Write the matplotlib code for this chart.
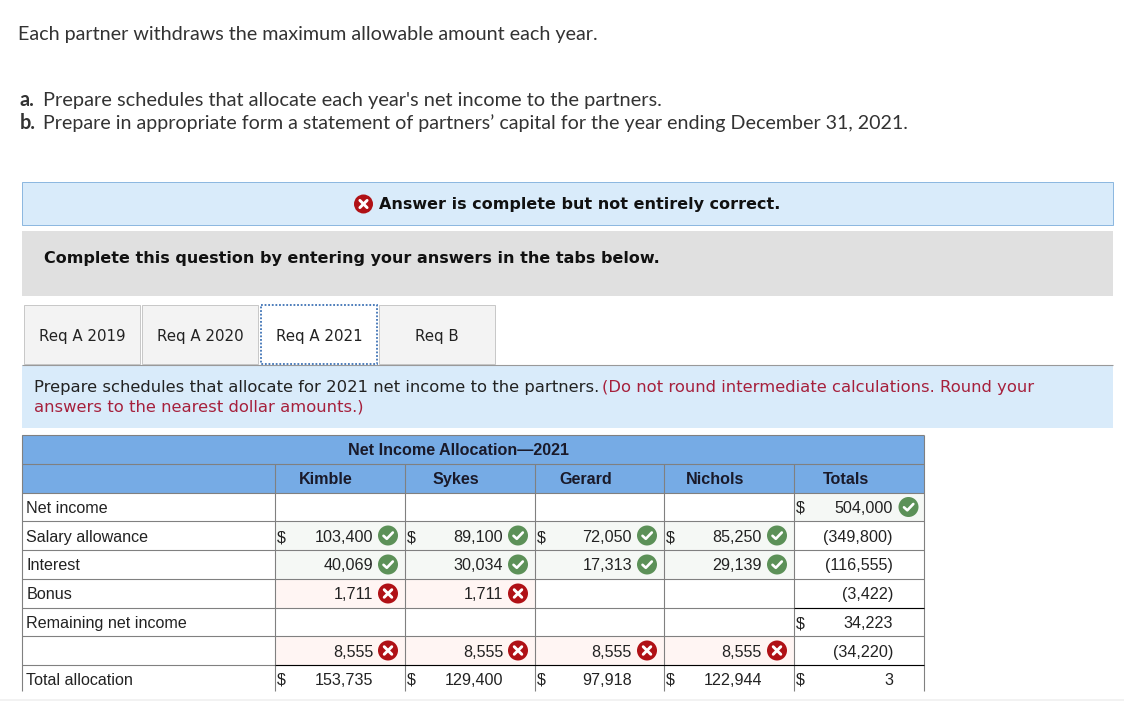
# partner net income allocation screenshot

import matplotlib
matplotlib.use('Agg')
import matplotlib.pyplot as plt
from matplotlib.patches import Rectangle, Circle

#----------------------------------------------------------------------
# data
intro_line = "Each partner withdraws the maximum allowable amount each year."
part_a = "Prepare schedules that allocate each year's net income to the partners."
part_b = "Prepare in appropriate form a statement of partners\u2019 capital for the year ending December 31, 2021."
banner_text = "Answer is complete but not entirely correct."
complete_text = "Complete this question by entering your answers in the tabs below."
tab_names = ["Req A 2019", "Req A 2020", "Req A 2021", "Req B"]
instr_black = "Prepare schedules that allocate for 2021 net income to the partners. "
instr_red_1 = "(Do not round intermediate calculations. Round your"
instr_red_2 = "answers to the nearest dollar amounts.)"

table_title = "Net Income Allocation\u20142021"
partners = ["Kimble", "Sykes", "Gerard", "Nichols"]
row_labels = ["Net income", "Salary allowance", "Interest", "Bonus",
              "Remaining net income", "", "Total allocation"]

kimble = [None, 103400, 40069, 1711, None, 8555, 153735]
sykes = [None, 89100, 30034, 1711, None, 8555, 129400]
gerard = [None, 72050, 17313, None, None, 8555, 97918]
nichols = [None, 85250, 29139, None, None, 8555, 122944]
totals = ["504,000", "(349,800)", "(116,555)", "(3,422)", "34,223", "(34,220)", "3"]

# y = correct, n = wrong, '' = no icon
partner_marks = ['', 'y', 'y', 'n', '', 'n', '']
gerard_marks = ['', 'y', 'y', '', '', 'n', '']
total_marks = ['y', '', '', '', '', '', '']
partner_dollars = [1, 6]
total_dollars = [0, 4, 6]

#----------------------------------------------------------------------
# page setup, axes in pixels with y going down
fig = plt.figure(figsize=(11.24, 7.01), dpi=100)
ax = fig.add_axes([0, 0, 1, 1])
ax.set_xlim(0, 1124)
ax.set_ylim(701, 0)
ax.axis('off')

BODY = 'Lato'
UI = 'DejaVu Sans'
CELL = 'Liberation Sans'
GRID = '#808080'
HEAD = '#76ABE5'
PALE = '#D9EBFA'
RED = '#B01116'
GREEN = '#5C9158'
WINE = '#A6203C'
PX = 0.72      # one pixel line width


def box(x0, y0, x1, y1, fc='none', ec='none', lw=PX, ls='-', z=1):
    ax.add_patch(Rectangle((x0, y0), x1 - x0, y1 - y0, fc=fc, ec=ec, lw=lw, ls=ls, zorder=z))


def line(x0, y0, x1, y1, color=GRID, lw=PX * 1.1, z=3):
    ax.plot([x0, x1], [y0, y1], color=color, lw=lw, zorder=z, solid_capstyle='butt')


def bad_icon(cx, cy, r=10):
    ax.add_patch(Circle((cx, cy), r, fc=RED, ec='none', zorder=4))
    d = r * 0.38
    ax.plot([cx - d, cx + d], [cy - d, cy + d], color='white', lw=2.1, zorder=5, solid_capstyle='round')
    ax.plot([cx - d, cx + d], [cy + d, cy - d], color='white', lw=2.1, zorder=5, solid_capstyle='round')


def ok_icon(cx, cy, r=10):
    ax.add_patch(Circle((cx, cy), r, fc=GREEN, ec='none', zorder=4))
    ax.plot([cx - 4.5, cx - 1.2, cx + 4.8], [cy + 0.3, cy + 3.3, cy - 3.0], color='white', lw=1.9, zorder=5,
            solid_capstyle='round', solid_joinstyle='round')


#----------------------------------------------------------------------
# text above the boxes
ax.text(18, 40, intro_line, fontsize=14.25, family=BODY, color='#333333')
ax.text(20, 106, "a.", fontsize=14.2, family=BODY, color='#333333', fontweight='bold')
ax.text(43, 106, part_a, fontsize=14.4, family=BODY, color='#333333')
ax.text(20, 129, "b.", fontsize=14.2, family=BODY, color='#333333', fontweight='bold')
ax.text(43, 129, part_b, fontsize=14.15, family=BODY, color='#333333')

# result banner
box(22, 182, 1113, 225, fc=PALE, ec='#8DB8E0')
bad_icon(363.5, 204, 9.5)
ax.text(379, 209.5, banner_text, fontsize=11.55, family=UI, fontweight='bold', color='#111111')

# gray box
box(22, 231, 1113, 296, fc='#E0E0E0')
ax.text(44, 262.5, complete_text, fontsize=11.55, family=UI, fontweight='bold', color='#111111')

# tabs
tab_edges = [(24, 140), (142, 258), (261, 377), (379, 495)]
for i in range(4):
    x0, x1 = tab_edges[i]
    if i == 2:
        box(x0, 305, x1, 364, fc='white', ec='#3F73B5', lw=1.3, ls=(0, (1, 1)), z=3)
    else:
        box(x0, 305, x1, 364, fc='#F3F3F3', ec='#C8C8C8')
    ax.text((x0 + x1) / 2, 341, tab_names[i], fontsize=10.85, family=UI, color='#222222', ha='center')
line(22, 364.5, 1113, 364.5, color='#999999', z=2)

# instructions
box(22, 365, 1113, 428, fc=PALE)
ax.text(34, 392, instr_black, fontsize=11.75, family=UI, color='#222222')
ax.text(602, 392, instr_red_1, fontsize=11.75, family=UI, color=WINE)
ax.text(34, 411, instr_red_2, fontsize=11.75, family=UI, color=WINE)

#----------------------------------------------------------------------
# table
col_x = [22, 275, 405, 535, 664, 794, 924]
row_y = [493, 521, 550, 579, 608, 636, 665, 691]
base_y = [513, 542, 570, 599, 628, 657, 685]
CELL_PT = 11.6

box(22, 435, 924, 493, fc=HEAD)
ax.text(459, 455, table_title, fontsize=CELL_PT, family=CELL, fontweight='bold', color='#1A1A2A', ha='center')

columns = [kimble, sykes, gerard, nichols]
for c in range(4):
    x0 = col_x[c + 1]
    x1 = col_x[c + 2]
    ax.text((x0 + x1) / 2 - 14, 484, partners[c], fontsize=CELL_PT, family=CELL, fontweight='bold',
            color='#1A1A2A', ha='center')
    marks = partner_marks if c < 2 else gerard_marks
    for r in range(7):
        if marks[r] == 'y':
            box(x0, row_y[r], x1, row_y[r + 1], fc='#F5F8F5')
            ok_icon(x1 - 17, (row_y[r] + row_y[r + 1]) / 2)
        elif marks[r] == 'n':
            box(x0, row_y[r], x1, row_y[r + 1], fc='#FFF5F3')
            bad_icon(x1 - 17, (row_y[r] + row_y[r + 1]) / 2)
        if columns[c][r] is not None:
            ax.text(x1 - 32, base_y[r], format(columns[c][r], ','), fontsize=CELL_PT, family=CELL,
                    color='#222222', ha='right')
        if r in partner_dollars:
            ax.text(x0 + 1.5, base_y[r], '$', fontsize=CELL_PT, family=CELL, color='#222222')

# totals column
ax.text(846, 484, "Totals", fontsize=CELL_PT, family=CELL, fontweight='bold', color='#1A1A2A', ha='center')
for r in range(7):
    if total_marks[r] == 'y':
        box(794, row_y[r], 924, row_y[r + 1], fc='#F5F8F5')
        ok_icon(908.5, (row_y[r] + row_y[r + 1]) / 2)
    ax.text(893, base_y[r], totals[r], fontsize=CELL_PT, family=CELL, color='#222222', ha='right')
    if r in total_dollars:
        ax.text(796, base_y[r], '$', fontsize=CELL_PT, family=CELL, color='#222222')

# row labels
for r in range(7):
    ax.text(26.5, base_y[r], row_labels[r], fontsize=CELL_PT, family=CELL, color='#222222')

# grid lines
line(22, 435, 924, 435)
line(22, 464, 924, 464)
for y in row_y[:-1]:
    line(22, y, 924, y)
line(22, 435, 22, 691)
line(924, 435, 924, 691)
for x in col_x[1:-1]:
    line(x, 464, x, 691)
line(794, 608, 924, 608, color='black', z=4)
line(275, 665, 924, 665, color='black', z=4)

# pale strip at the bottom of the page
line(0, 699.5, 1124, 699.5, color='#F0F0F0', lw=1.2)

fig.savefig('out.png', dpi=100)
